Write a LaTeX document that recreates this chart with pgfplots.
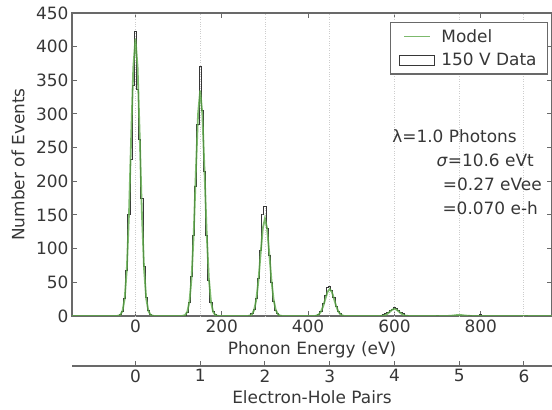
\documentclass[border=0pt]{standalone}
\usepackage{fontspec}
\setmainfont{DejaVu Sans}
\usepackage{pgfplots}
\pgfplotsset{compat=1.18}
\definecolor{modelgreen}{RGB}{92,168,72}
\definecolor{axgray}{RGB}{105,105,105}
\definecolor{txt}{RGB}{55,55,55}
\definecolor{gridc}{RGB}{205,205,205}
\definecolor{histc}{RGB}{55,55,55}
\newcommand{\fs}{\fontsize{17}{19}\selectfont}

\begin{document}
\begin{tikzpicture}
\begin{axis}[
 scale only axis, width=480bp, height=303bp,
 xmin=-147, xmax=965, ymin=0, ymax=450,
 xtick={0,200,400,600,800},
 ytick={0,50,...,450},
 extra x ticks={0,150,300,450,600,750,900},
 extra x tick labels={},
 extra x tick style={grid=major, major tick length=0pt},
 major grid style={gridc, dotted, line width=0.9bp},
 tick align=inside, major tick length=5bp,
 every tick/.append style={axgray, line width=1bp},
 axis line style={axgray, line width=1.3bp},
 tick label style={font=\fs, text=txt},
 /pgf/number format/assume math mode=true,
 xlabel={Phonon Energy (eV)},
 ylabel={Number of Events},
 label style={font=\fs, text=txt},
 xlabel style={at={(axis description cs:0.5,0)}, anchor=center, yshift=-34bp},
 ylabel style={at={(axis description cs:-0.1125,0.5)}, anchor=center},
 legend cell align=left,
 legend style={at={(0.992,0.970)}, anchor=north east, draw=axgray, line width=1.2bp,
   font=\fs, text=txt, inner xsep=9bp, inner ysep=5bp, row sep=5bp, column sep=4bp},
]
\addplot[const plot mark mid, histc, line width=1bp, forget plot] coordinates {
(-150,0) (-45,0) (-40,0) (-35,2) (-30,7) (-25,26) (-20,68) (-15,150) (-10,232) (-5,342) (0,422) (5,336) (10,262) (15,175) (20,74) (25,28) (30,8) (35,2) (40,1) (45,0)
(110,0) (115,1) (120,5) (125,20) (130,58) (135,120) (140,192) (145,285) (150,370) (155,305) (160,215) (165,120) (170,52) (175,20) (180,6) (185,2) (190,1) (195,0)
(260,0) (265,1) (270,3) (275,9) (280,26) (285,55) (290,97) (295,150) (300,162) (305,130) (310,90) (315,50) (320,22) (325,8) (330,3) (335,1) (340,0)
(415,0) (420,1) (425,2) (430,7) (435,18) (440,30) (445,42) (450,44) (455,38) (460,28) (465,14) (470,6) (475,3) (480,1) (485,0)
(565,0) (570,1) (575,2) (580,3) (585,5) (590,8) (595,10) (600,12) (605,11) (610,8) (615,5) (620,3) (625,1) (630,1) (635,0)
(695,0) (700,1) (705,0) (770,0) (775,1) (780,0) (795,0) (800,2) (805,0) (900,0) (905,1) (910,0) (965,0)
};
\addplot[modelgreen, line width=1.8bp, opacity=0.8,
  legend image code/.code={\path[draw=none, fill=none] (0bp,-5bp) rectangle (35bp,5bp); \draw[modelgreen, line width=1.2bp] (4.5bp,0bp) -- (30.5bp,0bp);}] coordinates {
(-150,0) (-45,0) (-40,0.3) (-35,1.8) (-30,7.5) (-25,25.5) (-20,69.5) (-15,151) (-10,264) (-5,369) (0,412) (5,369) (10,264) (15,151) (20,69.5) (25,25.5) (30,7.5) (35,1.8) (40,0.3) (45,0)
(105,0) (110,0.3) (115,1.4) (120,6.1) (125,20.8) (130,56.5) (135,123) (140,215) (145,300) (150,335) (155,300) (160,215) (165,123) (170,56.5) (175,20.8) (180,6.1) (185,1.4) (190,0.3) (195,0)
(260,0) (265,0.6) (270,2.6) (275,9) (280,24.5) (285,53.3) (290,93) (295,130) (300,145) (305,130) (310,93) (315,53.3) (320,24.5) (325,9) (330,2.6) (335,0.6) (340,0)
(415,0) (420,0.7) (425,2.5) (430,6.7) (435,14.7) (440,25.6) (445,35.8) (450,40) (455,35.8) (460,25.6) (465,14.7) (470,6.7) (475,2.5) (480,0.7) (485,0)
(565,0) (570,0.2) (575,0.65) (580,1.8) (585,3.9) (590,6.7) (595,9.4) (600,10.5) (605,9.4) (610,6.7) (615,3.9) (620,1.8) (625,0.65) (630,0.2) (635,0)
(720,0) (730,0.3) (740,1.0) (745,1.4) (750,1.6) (755,1.4) (760,1.0) (770,0.3) (780,0) (965,0)
};
\addlegendentry{Model}
\addlegendimage{legend image code/.code={\draw[histc, line width=1bp, fill=white] (0bp,-5bp) rectangle (35bp,5bp);}}
\addlegendentry{150 V Data}
\node[anchor=west, font=\fs, text=txt, inner sep=0pt] at (rel axis cs:0.667,0.594) {λ=1.0 Photons};
\node[anchor=east, font=\fs, text=txt, inner sep=0pt] at (rel axis cs:0.9625,0.515) {\textit{σ}=10.6 eVt};
\node[anchor=east, font=\fs, text=txt, inner sep=0pt] at (rel axis cs:0.979,0.436) {=0.27 eVee};
\node[anchor=east, font=\fs, text=txt, inner sep=0pt] at (rel axis cs:0.971,0.356) {=0.070 e-h};
\end{axis}
\begin{axis}[
 scale only axis, width=480bp, height=10bp, at={(0bp,-50bp)}, anchor=south west,
 xmin=-0.98, xmax=6.4333, ymin=0, ymax=1,
 axis x line=bottom, axis y line=none,
 x axis line style={-, axgray, line width=1.3bp},
 xtick={0,1,2,3,4,5,6},
 tick align=inside, major tick length=5bp,
 every tick/.append style={axgray, line width=1bp},
 tick label style={font=\fs, text=txt},
 /pgf/number format/assume math mode=true,
 xlabel={Electron-Hole Pairs},
 label style={font=\fs, text=txt},
 xlabel style={at={(axis description cs:0.5,0)}, anchor=center, yshift=-31bp},
]
\addplot[draw=none] coordinates {(0,0)};
\end{axis}
\pgfresetboundingbox
\path[use as bounding box] (-72bp,-94bp) rectangle (480bp,316bp);
\end{tikzpicture}
\end{document}
